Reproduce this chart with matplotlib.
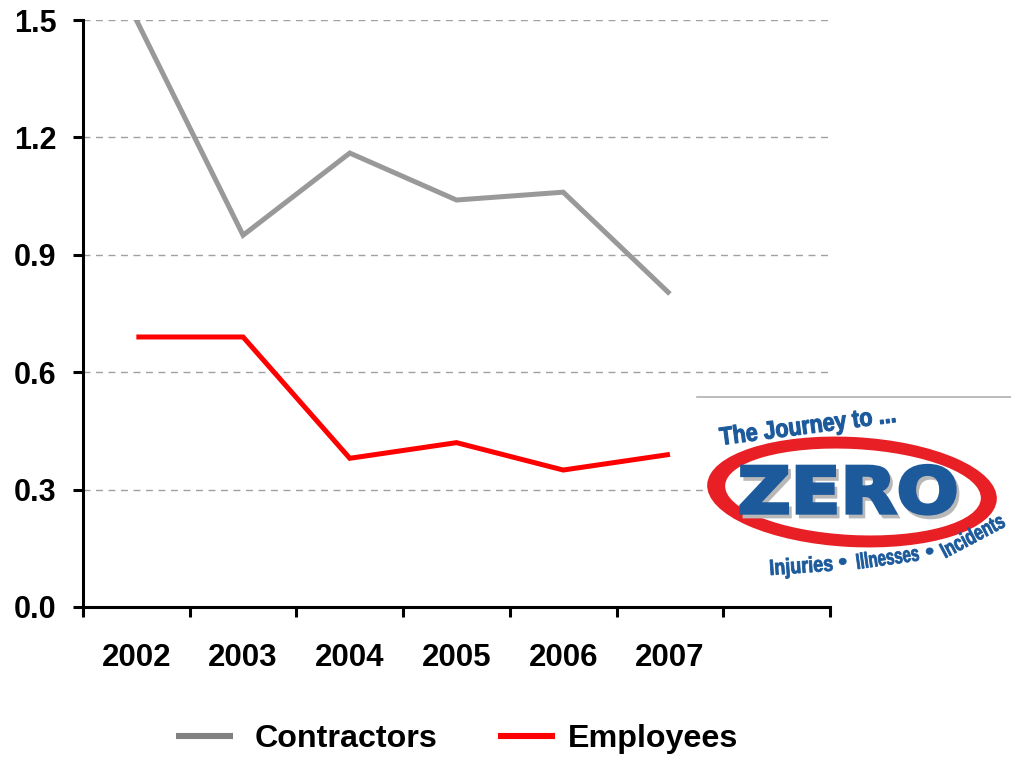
import matplotlib
matplotlib.use("Agg")
import matplotlib.pyplot as plt
from matplotlib.textpath import TextPath
from matplotlib.font_manager import FontProperties
from matplotlib.patches import PathPatch, Ellipse
from matplotlib.transforms import Affine2D

# ---- data ----
years = ["2002", "2003", "2004", "2005", "2006", "2007"]
contractors = [1.50, 0.95, 1.16, 1.04, 1.06, 0.80]
employees = [0.69, 0.69, 0.38, 0.42, 0.35, 0.39]
y_ticks = [0.0, 0.3, 0.6, 0.9, 1.2, 1.5]
n_slots = 7  # six years plus one empty slot on the right

W, H = 1011, 757
fig = plt.figure(figsize=(W / 100, H / 100), dpi=100)
plt.rcParams["font.family"] = ["Liberation Sans", "DejaVu Sans"]

ax = fig.add_axes([83 / W, 150 / H, (830 - 83) / W, (737 - 150) / H])
x = [i + 0.5 for i in range(len(years))]

l_con, = ax.plot(x, contractors, color="#999999", lw=3.6, solid_capstyle="butt",
                 solid_joinstyle="miter", label="Contractors", zorder=3)
l_emp, = ax.plot(x, employees, color="#ff0000", lw=3.6, solid_capstyle="butt",
                 solid_joinstyle="miter", label="Employees", zorder=3)

ax.set_xlim(0, n_slots)
ax.set_ylim(0, 1.5)

ax.set_yticks(y_ticks)
ax.set_yticklabels([f"{v:.1f}" for v in y_ticks], fontsize=22, fontweight="bold")
for v in y_ticks[1:]:
    ax.axhline(v, color="#a0a0a0", lw=1.0, ls=(0, (5, 4)), zorder=1)

ax.set_xticks(range(n_slots + 1))
ax.set_xticklabels([])
ax.set_xticks(x, minor=True)
ax.set_xticklabels(years, minor=True, fontsize=22.5, fontweight="bold")
ax.tick_params(axis="x", which="minor", length=0, pad=26)
ax.tick_params(axis="x", which="major", length=7, width=2.2, direction="out")
ax.tick_params(axis="y", length=7, width=2.2, direction="out", pad=12)

for side in ("top", "right"):
    ax.spines[side].set_visible(False)
for side in ("left", "bottom"):
    ax.spines[side].set_linewidth(2.2)

# legend entries, each placed on its own
leg_font = FontProperties(family="Liberation Sans", weight="bold", size=23.2)
legend_specs = [(l_con, "#808080", 176, 0.68), (l_emp, "#ff0000", 498, 0.40)]
for handle, col, xpix, pad in legend_specs:
    lg_entry = fig.legend([handle], [handle.get_label()], loc="center left",
                          bbox_to_anchor=(xpix / W, 18 / H), frameon=False,
                          borderpad=0, borderaxespad=0, handlelength=1.77,
                          handletextpad=pad, prop=leg_font)
    lg_entry.get_lines()[0].set_color(col)
    lg_entry.get_lines()[0].set_linewidth(4.4)

# ---- "The Journey to ZERO" badge, in pixel coordinates ----
lg = fig.add_axes([690 / W, (H - 600) / H, 321 / W, 210 / H])
lg.set_xlim(690, 1011)
lg.set_ylim(600, 390)
lg.axis("off")

lg.plot([697, 1011], [397, 397], color="#b0b0b0", lw=1.2, clip_on=False)

blue = "#1c5a9c"
red = "#e82026"


def path_text(s, x0, y0, width, em, angle, color, family="Liberation Sans",
              z=5, stroke=0.0):
    prop = FontProperties(family=family, weight="bold")
    tp = TextPath((0, 0), s, size=100, prop=prop)
    bb = tp.get_extents()
    sx = width / bb.width
    sy = em / 100
    tr = (Affine2D().translate(-bb.x0, 0).scale(sx, -sy)
          .rotate_deg(-angle).translate(x0, y0))
    patch = PathPatch(tr.transform_path(tp), facecolor=color,
                      edgecolor=color if stroke else "none", lw=stroke,
                      joinstyle="miter", zorder=z)
    lg.add_patch(patch)


lg.add_patch(Ellipse((852, 492), 290, 110, angle=3, facecolor=red,
                     edgecolor="none", zorder=2))
lg.add_patch(Ellipse((853, 492), 256, 86, angle=3, facecolor="white",
                     edgecolor="none", zorder=3))

path_text("ZERO", 744, 517, 214, 64, 0, "#b8b8b8", family="DejaVu Sans", z=4, stroke=2.0)
path_text("ZERO", 741, 513, 214, 64, 0, blue, family="DejaVu Sans", z=5, stroke=2.4)

path_text("The Journey to ...", 721, 445, 176, 25, 7.5, blue, stroke=0.8)
path_text("Injuries", 771, 575, 62, 22, 4, blue, stroke=0.6)
path_text("•", 840, 569, 7, 22, 6, blue, stroke=0.6)
path_text("Illnesses", 858, 569, 62, 22, 8, blue, stroke=0.6)
path_text("•", 928, 559, 7, 22, 14, blue, stroke=0.6)
path_text("Incidents", 946, 558, 68, 22, 28, blue, stroke=0.6)

fig.savefig("out.png", dpi=100)
